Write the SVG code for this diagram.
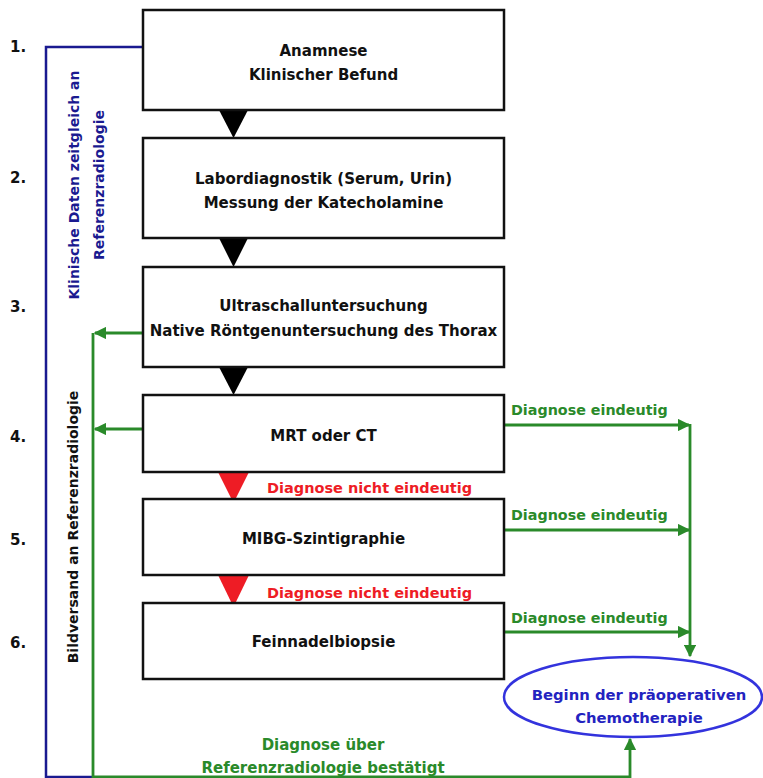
<svg xmlns="http://www.w3.org/2000/svg" width="763" height="778" viewBox="0 0 763 778">
<defs>
<style>
text{font-family:"DejaVu Sans","Liberation Sans",sans-serif;font-weight:bold;}
.box{fill:#fff;stroke:#111;stroke-width:2.5;}
.t{font-size:15px;fill:#111;text-anchor:middle;}
.num{font-size:15px;fill:#111;}
.g{stroke:#2a8a2a;stroke-width:2.8;fill:none;}
.gt{font-size:14.3px;fill:#2a8a2a;}
.rt{font-size:14.5px;fill:#ee1c25;}
.bl{stroke:#1a1a90;stroke-width:2.5;fill:none;}
.bt{font-size:14px;fill:#1a1a90;text-anchor:middle;}
.tri{fill:#000;}
.rtri{fill:#ee1c25;}
</style>
<marker id="ga" viewBox="0 0 10 10" refX="9" refY="5" markerWidth="4.5" markerHeight="4.5" orient="auto" markerUnits="strokeWidth">
<path d="M0,0 L10,5 L0,10 z" fill="#2a8a2a"/>
</marker>
</defs>
<rect width="763" height="778" fill="#fff"/>

<g id="numbers">
<text class="num" x="10" y="52">1.</text>
<text class="num" x="10" y="183">2.</text>
<text class="num" x="10" y="312">3.</text>
<text class="num" x="10" y="442">4.</text>
<text class="num" x="10" y="545">5.</text>
<text class="num" x="10" y="648">6.</text>
</g>

<g id="connectors">
<polyline class="bl" points="143,47 46,47 46,777 93,777"/>
<line class="g" x1="143" y1="333" x2="95" y2="333" marker-end="url(#ga)"/>
<line class="g" x1="143" y1="429" x2="95" y2="429" marker-end="url(#ga)"/>
<polyline class="g" points="93,333 93,777 630,777 630,739" marker-end="url(#ga)"/>
<line class="g" x1="503" y1="425" x2="689" y2="425" marker-end="url(#ga)"/>
<line class="g" x1="503" y1="530" x2="689" y2="530" marker-end="url(#ga)"/>
<line class="g" x1="503" y1="632" x2="689" y2="632" marker-end="url(#ga)"/>
<line class="g" x1="690" y1="424" x2="690" y2="656" marker-end="url(#ga)"/>
<polygon class="tri" points="219,110 248,110 233.5,138"/>
<polygon class="tri" points="219,238 248,238 233.5,267"/>
<polygon class="tri" points="219,367 248,367 233.5,395"/>
<polygon class="rtri" points="218,472 249,472 233.5,503"/>
<polygon class="rtri" points="218,575 249,575 233.5,607"/>
<text class="rt" x="267" y="493">Diagnose nicht eindeutig</text>
<text class="rt" x="267" y="598">Diagnose nicht eindeutig</text>
<text class="gt" x="511" y="415">Diagnose eindeutig</text>
<text class="gt" x="511" y="520">Diagnose eindeutig</text>
<text class="gt" x="511" y="623">Diagnose eindeutig</text>
<text class="gt" x="323" y="750" text-anchor="middle" style="font-size:15px">Diagnose über</text>
<text class="gt" x="323" y="773" text-anchor="middle" style="font-size:15px">Referenzradiologie bestätigt</text>
<text class="bt" transform="translate(79,185) rotate(-90)">Klinische Daten zeitgleich an</text>
<text class="bt" transform="translate(104,185) rotate(-90)">Referenzradiologie</text>
<text class="t" style="font-size:14px" transform="translate(78,527) rotate(-90)">Bildversand an Referenzradiologie</text>
</g>

<g id="n1">
<rect class="box" x="143" y="10" width="361" height="100"/>
<text class="t" x="323.5" y="56">Anamnese</text>
<text class="t" x="323.5" y="80">Klinischer Befund</text>
</g>
<g id="n2">
<rect class="box" x="143" y="138" width="361" height="100"/>
<text class="t" x="323.5" y="184">Labordiagnostik (Serum, Urin)</text>
<text class="t" x="323.5" y="208">Messung der Katecholamine</text>
</g>
<g id="n3">
<rect class="box" x="143" y="267" width="361" height="100"/>
<text class="t" x="323.5" y="311">Ultraschalluntersuchung</text>
<text class="t" x="323.5" y="336">Native Röntgenuntersuchung des Thorax</text>
</g>
<g id="n4">
<rect class="box" x="143" y="395" width="361" height="77"/>
<text class="t" x="323.5" y="441">MRT oder CT</text>
</g>
<g id="n5">
<rect class="box" x="143" y="499" width="361" height="76"/>
<text class="t" x="323.5" y="544">MIBG-Szintigraphie</text>
</g>
<g id="n6">
<rect class="box" x="143" y="603" width="361" height="76"/>
<text class="t" x="323.5" y="647">Feinnadelbiopsie</text>
</g>
<g id="n7">
<ellipse cx="633" cy="697" rx="129" ry="40" fill="#fff" stroke="#3333dd" stroke-width="2.5"/>
<text x="639" y="700" text-anchor="middle" style="font-size:14.8px;fill:#2323c0">Beginn der präoperativen</text>
<text x="639" y="723" text-anchor="middle" style="font-size:14.8px;fill:#2323c0">Chemotherapie</text>
</g>
</svg>
